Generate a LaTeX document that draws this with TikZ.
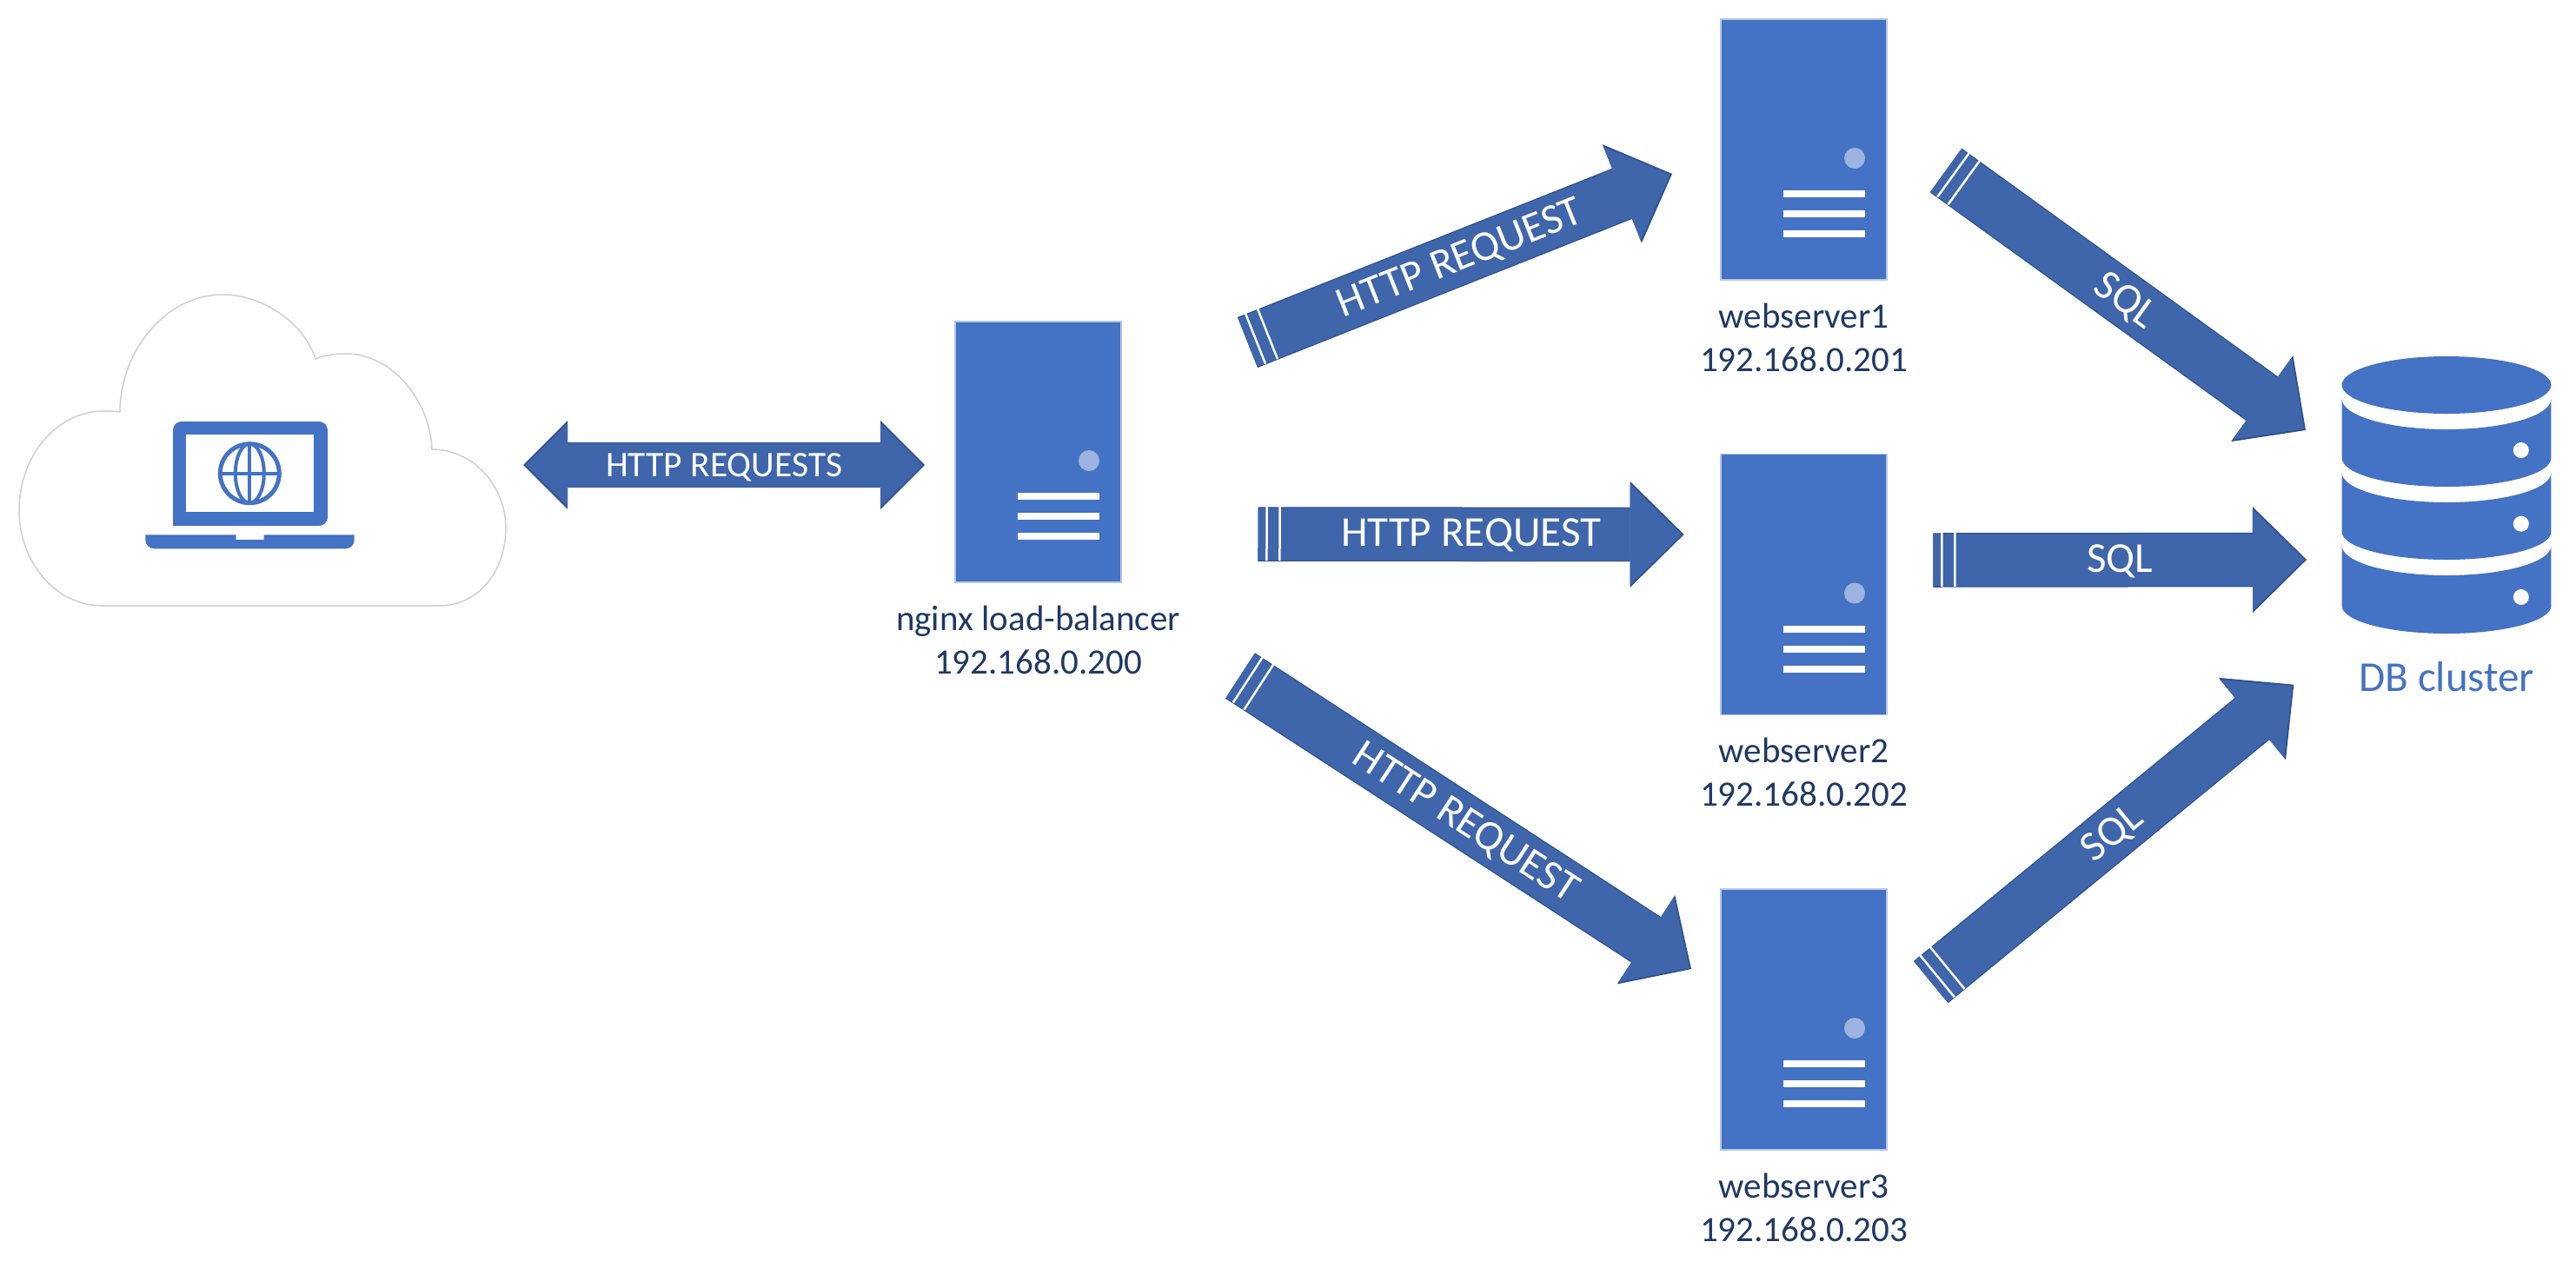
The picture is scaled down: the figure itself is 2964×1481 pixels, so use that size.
\documentclass[tikz,border=0pt]{standalone}
\usepackage{fontspec}
\setmainfont{Carlito}
\usetikzlibrary{arrows.meta, positioning, decorations.markings}

\definecolor{dbblue}{HTML}{4472C4}
\definecolor{serverline}{HTML}{B4C7E7}
\definecolor{serverdot}{HTML}{9DB3E0}
\definecolor{arrowfill}{HTML}{3F65AB}
\definecolor{arrowline}{HTML}{2F528F}
\definecolor{labeltext}{HTML}{1F3864}
\definecolor{cloudline}{HTML}{D0CECE}

\begin{document}
\begin{tikzpicture}[
    x=1pt, y=-1pt,
    node distance=200.5pt,
    server/.style={
        draw=serverline,
        fill=dbblue,
        rectangle,
        line width=1.5pt,
        minimum width=191pt,
        minimum height=300pt,
        inner sep=0pt,
        outer sep=0pt,
        path picture={
            \fill[serverdot] ([shift={(154,160)}]path picture bounding box.north west) circle (12pt);
            \fill[white] ([shift={(72,197)}]path picture bounding box.north west) rectangle ++(94,8);
            \fill[white] ([shift={(72,220)}]path picture bounding box.north west) rectangle ++(94,8);
            \fill[white] ([shift={(72,243)}]path picture bounding box.north west) rectangle ++(94,8);
        }
    },
    hostlabel/.style={
        align=center,
        inner sep=0pt,
        outer sep=0pt,
        text=labeltext,
        font=\fontsize{41}{50}\selectfont
    },
    bigout/.tip={Triangle[length=62pt, width=122pt, line width=0pt, color=arrowline, fill=arrowline]},
    bigin/.tip={Triangle[length=59.5pt, width=116pt, line width=0pt, color=arrowfill, fill=arrowfill]},
    smallout/.tip={Triangle[length=51pt, width=102pt, line width=0pt, color=arrowline, fill=arrowline]},
    smallin/.tip={Triangle[length=48.5pt, width=96pt, line width=0pt, color=arrowfill, fill=arrowfill]},
    flowtext/.style={midway, sloped, text=white, text height=31pt, text depth=3pt, font=\fontsize{49}{55}\selectfont},
    dualarrow/.style={
        color=arrowfill,
        line width=50pt,
        {smallin}-{smallin},
        shorten <=2.5pt,
        shorten >=2.5pt,
        preaction={draw=arrowline, line width=52.5pt, {smallout}-{smallout}, shorten <=0pt, shorten >=0pt}
    },
    flowarrow/.style={
        color=arrowfill,
        line width=60pt,
        -{bigin},
        shorten >=2.5pt,
        preaction={draw=arrowline, line width=62.5pt, -{bigout}, shorten >=0pt},
        postaction={decorate, decoration={markings,
            mark=at position 10pt with {\draw[white, line width=2.5pt, -] (0,-33) -- (0,33);},
            mark=at position 25pt with {\draw[white, line width=2.5pt, -] (0,-33) -- (0,33);}
        }}
    },
    dbdisk/.style={fill=dbblue}
]
\useasboundingbox (0,0) rectangle (2964,1481);

% Client cloud
\draw[cloudline, line width=1.5pt] (118,697) -- (505,697)
    .. controls (550,697) and (582,658) .. (582,607)
    .. controls (582,560) and (545,517) .. (497,517)
    .. controls (495,460) and (450,407) .. (398,407)
    .. controls (385,407) and (372,409) .. (363,413)
    .. controls (350,372) and (303,339) .. (256,339)
    .. controls (190,339) and (138,405) .. (138,474)
    .. controls (132,473) and (126,473) .. (119,473)
    .. controls (65,473) and (22,525) .. (22,587)
    .. controls (22,648) and (65,697) .. (118,697) -- cycle;
\node[inner sep=0pt, minimum width=560pt, minimum height=358pt] (cloud) at (302,518) {};

% Laptop
\fill[dbblue] (199,605) [rounded corners=10pt] -- (199,485) -- (377,485) -- (377,605) [sharp corners] -- cycle;
\fill[white] (214,500) rectangle (361,589);
\fill[dbblue] (167.3,615.3) -- (271.7,615.3) -- (271.7,621) -- (303.7,621) -- (303.7,615.3) -- (407.7,615.3)
    [rounded corners=10pt] -- (407.7,631.3) -- (167.3,631.3) [sharp corners] -- cycle;
\draw[dbblue, line width=5pt] (287.3,544.7) circle (34pt);
\draw[dbblue, line width=4pt] (287.3,544.7) ellipse [x radius=16.5pt, y radius=34pt];
\draw[dbblue, line width=4pt] (253.3,544.7) -- (321.3,544.7);
\draw[dbblue, line width=4pt] (287.3,510.7) -- (287.3,578.7);

% Servers
\node[server] (lb) at (1194.5,520) {};
\node[server] (ws1) at (2075.5,172) {};
\node[server] (ws2) [below=of ws1] {};
\node[server] (ws3) [below=of ws2] {};

\node[hostlabel] (lblabel) [below=27pt of lb] {nginx load-balancer\\192.168.0.200};
\node[hostlabel] (ws1label) [below=27pt of ws1] {webserver1\\192.168.0.201};
\node[hostlabel] (ws2label) [below=27pt of ws2] {webserver2\\192.168.0.202};
\node[hostlabel] (ws3label) [below=27pt of ws3] {webserver3\\192.168.0.203};

% Database
\node[inner sep=0pt, outer sep=0pt, minimum width=240.8pt, minimum height=319pt] (db) at (2815,569.5) {};
\fill[dbdisk] (2815,443) ellipse [x radius=120.4pt, y radius=33pt];
\fill[dbdisk] (2694.6,459) arc[start angle=180, end angle=360, x radius=120.4pt, y radius=35pt]
    -- (2935.4,527) arc[start angle=0, end angle=-180, x radius=120.4pt, y radius=33pt] -- cycle;
\fill[dbdisk] (2694.6,544) arc[start angle=180, end angle=360, x radius=120.4pt, y radius=34pt]
    -- (2935.4,612) arc[start angle=0, end angle=-180, x radius=120.4pt, y radius=32pt] -- cycle;
\fill[dbdisk] (2694.6,628) arc[start angle=180, end angle=360, x radius=120.4pt, y radius=34pt]
    -- (2935.4,697) arc[start angle=0, end angle=-180, x radius=120.4pt, y radius=32pt] -- cycle;
\fill[white] (2900.8,518) circle (9pt);
\fill[white] (2900.8,602.7) circle (9pt);
\fill[white] (2900.8,687) circle (9pt);
\node[inner sep=0pt, outer sep=0pt, text=dbblue, font=\fontsize{49}{55}\selectfont] (dblabel) [below=32pt of db] {DB cluster};

% Arrows
\draw[dualarrow] ([shift={(20,17)}]cloud.east) -- ([shift={(-35,15)}]lb.west)
    node[midway, text=white, text height=27pt, text depth=0pt, font=\fontsize{41.5}{50}\selectfont] {HTTP REQUESTS};

\draw[flowarrow] ([shift={(145.5,-126)}]lb.east) -- ([shift={(-56,28)}]ws1.west)
    node[flowtext] {HTTP REQUEST};
\draw[flowarrow] ([shift={(157.5,94.5)}]lb.east) -- ([shift={(-42.4,-57.5)}]ws2.west)
    node[flowtext] {HTTP REQUEST};
\draw[flowarrow] ([shift={(137,257.5)}]lb.east) -- ([shift={(-34,-58)}]ws3.west)
    node[flowtext] {HTTP REQUEST};

\draw[flowarrow] ([shift={(68,24)}]ws1.east) -- ([shift={(-41.6,-74.5)}]db.west)
    node[flowtext] {SQL};
\draw[flowarrow] ([shift={(53.4,-28)}]ws2.east) -- ([shift={(-40.6,74.5)}]db.west)
    node[flowtext] {SQL};
\draw[flowarrow] ([shift={(50.7,-43)}]ws3.east) -- ([shift={(-55.3,218.2)}]db.west)
    node[flowtext] {SQL};

\end{tikzpicture}
\end{document}
